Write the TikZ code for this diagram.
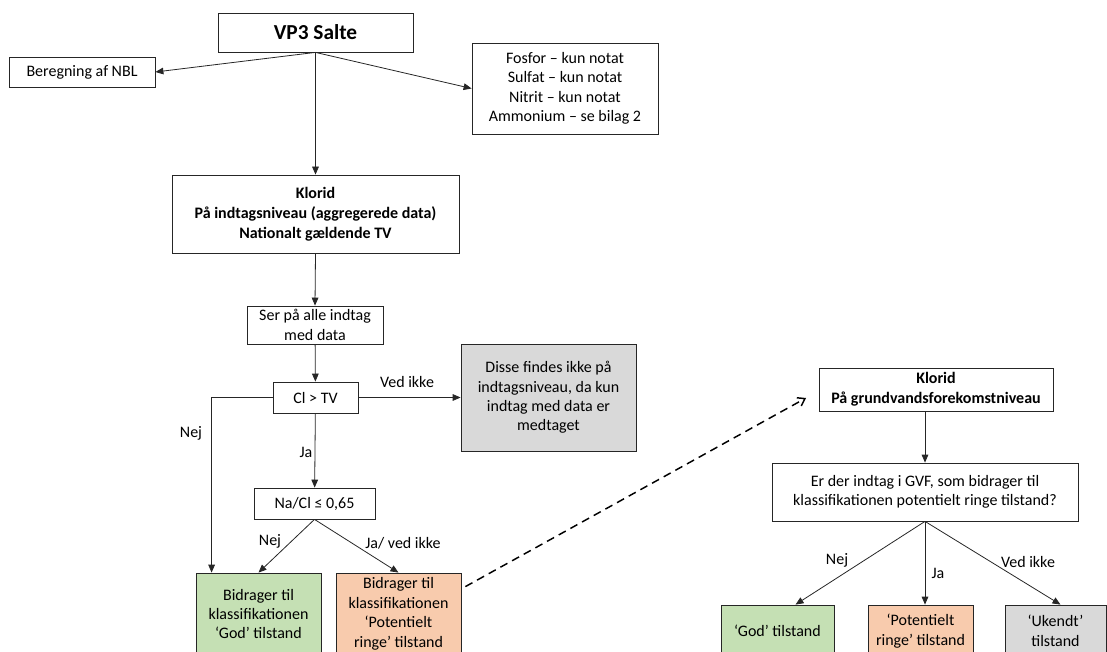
\documentclass[tikz,border=0pt]{standalone}
\usepackage{fontspec}
\setmainfont{Carlito}
\usetikzlibrary{arrows.meta}

\definecolor{godgreen}{HTML}{C5E0B4}
\definecolor{potorange}{HTML}{F8CBAD}
\definecolor{ukendtgrey}{HTML}{D9D9D9}

\begin{document}
\begin{tikzpicture}[x=0.75pt, y=-0.75pt,
    box/.style={rectangle, draw=black!85, line width=0.6pt, fill=white, align=center, inner sep=0pt, text=black,
        font=\fontsize{12}{14.6}\selectfont},
    head/.style={box, font=\bfseries\fontsize{12}{15}\selectfont},
    sz/.style 2 args={minimum width=#1*0.75pt, minimum height=#2*0.75pt},
    lbl/.style={inner sep=0pt, text=black, font=\fontsize{12}{14}\selectfont},
    arr/.style={draw=black!85, line width=0.6pt, -{Triangle[length=6pt,width=5pt]}}
]
\clip (0,0) rectangle (1107,652);

% indtagsniveau
\node [head, font=\bfseries\fontsize{16}{18}\selectfont, sz={195}{39}] (VP3) at (315.5,32.5) {VP3 Salte};
\node [box, sz={146}{30}] (NBL) at (82,72) {Beregning af NBL};
\node [box, sz={186}{91}] (Notat) at (565,88.5) {Fosfor – kun notat\\Sulfat – kun notat\\Nitrit – kun notat\\Ammonium – se bilag 2};
\node [head, sz={287}{78}] (KloridInd) at (315.5,214) {Klorid\\På indtagsniveau (aggregerede data)\\Nationalt gældende TV};
\node [box, sz={136}{38}] (AlleIndtag) at (315,325) {Ser på alle indtag\\med data};
\node [box, sz={85}{31}] (ClTV) at (315.5,397.5) {Cl > TV};
\node [box, fill=ukendtgrey, sz={175}{107}] (Findes) at (548.5,397.5) {Disse findes ikke på\\indtagsniveau, da kun\\indtag med data er\\medtaget};
\node [box, sz={121}{31}] (NaCl) at (314.5,503.5) {Na/Cl ≤ 0,65};
\node [box, fill=godgreen, sz={125}{82}] (GodInd) at (258.5,614) {Bidrager til\\klassifikationen\\‘God’ tilstand};
\node [box, fill=potorange, sz={125}{82}] (PotInd) at (398.5,614) {Bidrager til\\klassifikationen\\‘Potentielt\\ringe’ tilstand};

% grundvandsforekomstniveau
\node [head, sz={234}{43}] (KloridGVF) at (936,389.5) {Klorid\\På grundvandsforekomstniveau};
\node [box, sz={306}{58}] (Spm) at (925,492) {Er der indtag i GVF, som bidrager til\\klassifikationen potentielt ringe tilstand?};
\node [box, fill=godgreen, sz={113}{52}] (GodGVF) at (777.5,631) {‘God’ tilstand};
\node [box, fill=potorange, sz={105}{52}] (PotGVF) at (920.5,631) {‘Potentielt\\ringe’ tilstand};
\node [box, fill=ukendtgrey, sz={101}{52}] (Ukendt) at (1055.5,631) {‘Ukendt’\\tilstand};

% labels
\node [lbl] (VedIkkeA) at (407,382) {Ved ikke};
\node [lbl] (NejA) at (191,433) {Nej};
\node [lbl] (JaA) at (306,452) {Ja};
\node [lbl] (NejB) at (270,541) {Nej};
\node [lbl] (JaVedIkke) at (403,543) {Ja/ ved ikke};
\node [lbl] (NejC) at (837,560) {Nej};
\node [lbl] (JaC) at (938,573) {Ja};
\node [lbl] (VedIkkeC) at (1028,562) {Ved ikke};

% connectors
\draw [arr] (VP3.south) -- (NBL.east);
\draw [arr] (VP3.south) -- (Notat.west);
\draw [arr] (VP3.south) -- (KloridInd.north);
\draw [arr] (KloridInd.south) -- (AlleIndtag.north);
\draw [arr] (AlleIndtag) -- (ClTV);
\draw [arr] (ClTV) -- (Findes);
\draw [arr] (ClTV.west) -| ([shift={(16,0)}]GodInd.north west);
\draw [arr] (ClTV) -- (NaCl);
\draw [arr] (NaCl.south) -- (GodInd.north);
\draw [arr] (NaCl.south) -- (PotInd.north);

\coordinate (DashEnd) at (806,398);
\draw [black, line width=1.1pt, dash pattern=on 6pt off 4pt, -{Straight Barb[length=5pt,width=7pt]}]
    ([shift={(4,14)}]PotInd.north east) -- (DashEnd);

\draw [arr] (KloridGVF.south -| Spm.north) -- (Spm.north);
\draw [arr] (Spm.south) -- ([shift={(18,0)}]GodGVF.north);
\draw [arr] (Spm.south) -- (Spm.south |- PotGVF.north);
\draw [arr] (Spm.south) -- ([shift={(5,0)}]Ukendt.north);

\end{tikzpicture}
\end{document}
